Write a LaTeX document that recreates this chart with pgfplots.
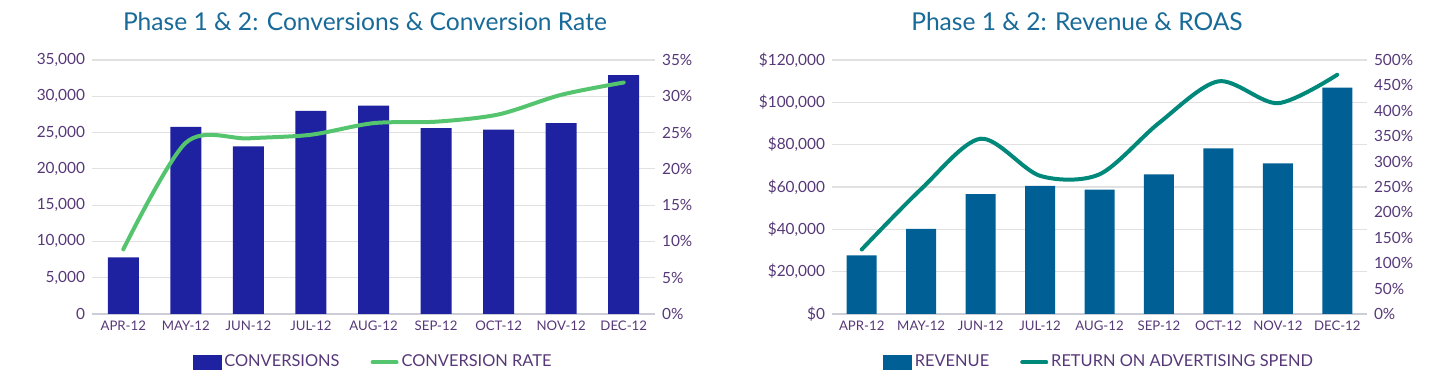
\documentclass[border=0pt]{standalone}
\usepackage{pgfplots}
\pgfplotsset{compat=1.18}
\usepackage{fontspec}
\setmainfont{Lato}
\definecolor{convblue}{RGB}{31,34,160}
\definecolor{convgreen}{RGB}{84,196,110}
\definecolor{revblue}{RGB}{0,96,150}
\definecolor{roasteal}{RGB}{0,137,123}
\definecolor{titlecol}{RGB}{24,106,152}
\definecolor{tickcol}{RGB}{86,56,120}
\definecolor{gridcol}{RGB}{225,225,225}
\definecolor{basecol}{RGB}{205,205,215}

\pgfplotsset{
  common/.style={
    scale only axis, height=127pt,
    xmin=-0.5, xmax=8.5, ymin=0,
    /pgf/number format/assume math mode=true,
    scaled y ticks=false,
    tick label style={color=tickcol},
    yticklabel style={font=\fontsize{7.7}{9}\selectfont},
    xticklabel style={font=\fontsize{6.6}{8}\selectfont},
    ytick style={draw=none},
    y axis line style={draw=none},
  },
  prim/.style={common,
    axis x line*=bottom, axis y line*=left,
    x axis line style={basecol, line width=0.7pt},
    ymajorgrids, grid style={gridcol, line width=0.6pt},
    xtick={0,...,8},
    xticklabels={APR-12,MAY-12,JUN-12,JUL-12,AUG-12,SEP-12,OCT-12,NOV-12,DEC-12},
    xtick style={draw=none},
    extra x ticks={-0.5,0.5,...,8.5}, extra x tick labels={},
    extra x tick style={tick align=outside, major tick length=3pt, tick style={draw=gridcol, line width=0.6pt}, grid=none},
  },
  sec/.style={common,
    axis x line=none, axis y line*=right,
    legend columns=2,
    legend style={at={(0.5,-0.19)}, anchor=center, draw=none, fill=none,
      font=\fontsize{8.2}{10}\selectfont, text=tickcol, inner sep=0pt,
      nodes={inner xsep=1.5pt}},
    /tikz/every even column/.append style={column sep=14pt},
  },
}

\begin{document}
\begin{tikzpicture}
\useasboundingbox (0,0) rectangle (720pt,195pt);

% ---------- Left chart ----------
\begin{axis}[prim, at={(46pt,38pt)}, anchor=south west, width=281.5pt,
  ymax=35000, ytick={0,5000,...,35000},
  yticklabels={0,{5,000},{10,000},{15,000},{20,000},{25,000},{30,000},{35,000}}]
\addplot[ybar, bar width=15.5pt, fill=convblue, draw=none] coordinates {
(0,7800) (1,25800) (2,23100) (3,28000) (4,28700) (5,25600) (6,25400) (7,26300) (8,32900)};
\end{axis}
\begin{axis}[sec, at={(46pt,38pt)}, anchor=south west, width=281.5pt,
  ymax=35, ytick={0,5,...,35},
  yticklabels={0\%,5\%,10\%,15\%,20\%,25\%,30\%,35\%}]
\addlegendimage{legend image code/.code={\fill[convblue] (0pt,-3.5pt) rectangle (14pt,3.5pt);}}
\addlegendentry{CONVERSIONS}
\addplot[convgreen, line width=2pt, smooth, line cap=round,
  legend image code/.code={\draw[line width=2pt, line cap=round] (0pt,0pt) -- (12pt,0pt);}] coordinates {
(0,8.9) (1,23.6) (2,24.2) (3,24.7) (4,26.3) (5,26.5) (6,27.5) (7,30.2) (8,31.9)};
\addlegendentry{CONVERSION RATE}
\end{axis}
\node[font=\fontsize{12.3}{14}\selectfont, text=titlecol] at (182.5pt,184pt) {Phase 1 \& 2: Conversions \& Conversion Rate};

% ---------- Right chart ----------
\begin{axis}[prim, at={(416pt,38pt)}, anchor=south west, width=267.5pt,
  ymax=120000, ytick={0,20000,...,120000},
  yticklabels={\$0,{\$20,000},{\$40,000},{\$60,000},{\$80,000},{\$100,000},{\$120,000}}]
\addplot[ybar, bar width=15pt, fill=revblue, draw=none] coordinates {
(0,27700) (1,40200) (2,56600) (3,60500) (4,58700) (5,66000) (6,78200) (7,71200) (8,107000)};
\end{axis}
\begin{axis}[sec, at={(416pt,38pt)}, anchor=south west, width=267.5pt,
  ymax=500, ytick={0,50,...,500},
  yticklabels={0\%,50\%,100\%,150\%,200\%,250\%,300\%,350\%,400\%,450\%,500\%}]
\addlegendimage{legend image code/.code={\fill[revblue] (0pt,-3.5pt) rectangle (14pt,3.5pt);}}
\addlegendentry{REVENUE}
\addplot[roasteal, line width=2pt, smooth, line cap=round,
  legend image code/.code={\draw[line width=2pt, line cap=round] (0pt,0pt) -- (12pt,0pt);}] coordinates {
(0,127) (1,246) (2,345) (3,272) (4,275) (5,376) (6,458) (7,415) (8,471)};
\addlegendentry{RETURN ON ADVERTISING SPEND}
\end{axis}
\node[font=\fontsize{12.3}{14}\selectfont, text=titlecol] at (538.5pt,184pt) {Phase 1 \& 2: Revenue \& ROAS};
\end{tikzpicture}
\end{document}
